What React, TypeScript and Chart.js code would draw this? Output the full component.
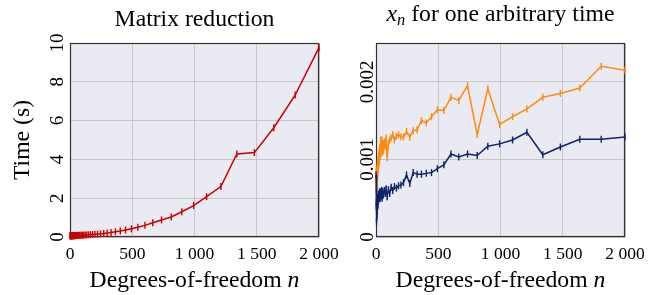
import React, { useEffect, useRef } from "react";
import { Chart, registerables } from "chart.js";
Chart.register(...registerables);

// ---------- data ----------
const nValues = [1, 2, 3, 4, 5, 6, 7, 8, 9, 10, 11, 12, 13, 15, 16, 18, 20, 22, 25, 27, 30, 33, 37, 40, 45, 49, 55, 60, 67, 74, 81, 90, 100, 110, 122, 134, 148, 164, 181, 200, 221, 245, 271, 299, 330, 365, 404, 446, 493, 545, 602, 665, 735, 813, 898, 993, 1097, 1212, 1340, 1481, 1637, 1809, 2000];

const timeValues = [
  0.07, 0.07, 0.07, 0.07, 0.07, 0.07, 0.07, 0.07, 0.07, 0.07, 0.07, 0.07, 0.07,
  0.07, 0.07, 0.07, 0.07, 0.07, 0.07, 0.07, 0.07, 0.07, 0.07, 0.07, 0.075, 0.075, 0.08, 0.08, 0.08, 0.085, 0.085, 0.09, 0.09,
  0.095, 0.1, 0.105, 0.11, 0.12, 0.13, 0.14, 0.15, 0.16, 0.18,
  0.2, 0.23, 0.27, 0.31, 0.36, 0.42, 0.5, 0.6, 0.73, 0.88,
  1.03, 1.3, 1.62, 2.08, 2.6, 4.28, 4.35, 5.63, 7.32, 9.76,
];

const xnOrange = [
  0.00085, 0.0006, 0.0007, 0.00052, 0.00075, 0.0006, 0.00082, 0.00068, 0.00088, 0.00075, 0.0009, 0.00078, 0.00095,
  0.00085, 0.001, 0.0009, 0.00104, 0.00095, 0.0011, 0.00097, 0.00115, 0.00104, 0.00125, 0.00108, 0.00118, 0.00125, 0.0011, 0.00112, 0.00122, 0.00117, 0.00128, 0.00102, 0.00121,
  0.00125, 0.00128, 0.00132, 0.00125, 0.0013, 0.00132, 0.00129, 0.00129, 0.00136, 0.00129,
  0.00137, 0.00138, 0.0015, 0.00147, 0.00155, 0.00164, 0.00163, 0.0018, 0.00176, 0.00195,
  0.00132, 0.00191, 0.00145, 0.00155, 0.00165, 0.0018, 0.00185, 0.00192, 0.0022, 0.00215,
];

const xnBlue = [
  0.0008, 0.0004, 0.00045, 0.0002, 0.00035, 0.00028, 0.00042, 0.0003, 0.00045, 0.00035, 0.00048, 0.0004, 0.0005,
  0.00042, 0.00052, 0.00046, 0.00055, 0.00048, 0.00055, 0.0005, 0.00058, 0.0005, 0.00058, 0.00052, 0.0006, 0.0005, 0.00058, 0.00055, 0.0006, 0.00056, 0.00062, 0.00052, 0.00061,
  0.00056, 0.00064, 0.0006, 0.00065, 0.00063, 0.00066, 0.00067, 0.0007, 0.0008, 0.00069,
  0.00083, 0.00081, 0.00081, 0.00082, 0.00083, 0.00088, 0.00093, 0.00107, 0.00103, 0.00107,
  0.00105, 0.00117, 0.0012, 0.00125, 0.00135, 0.00106, 0.00116, 0.00126, 0.00126, 0.00129,
];

const xTickValues = [0, 500, 1000, 1500, 2000];
const xTickLabels = ["0", "500", "1 000", "1 500", "2 000"];
const leftYTickValues = [0, 2, 4, 6, 8, 10];
const leftYTickLabels = ["0", "2", "4", "6", "8", "10"];
const rightYTickValues = [0, 0.001, 0.002];
const rightYTickLabels = ["0", "0.001", "0.002"];

const leftTitle = "Matrix reduction";
const rightTitleParts = ["x", "n", " for one arbitrary time"];
const xLabelParts = ["Degrees-of-freedom ", "n"];
const leftYLabel = "Time (s)";

// ---------- style ----------
const SERIF = '"Liberation Serif", "Times New Roman", serif';
const BG = "#eaeaf2";
const GRID = "#c6c6c6";
const FRAME = "#333333";
const RED = "#c80000";
const ORANGE = "#ff8a10";
const NAVY = "#0f2468";
const W = 657;
const H = 295;
const LABEL_SIZE = 23.7;
const XTICK_SIZE = 17.5;
const YTICK_SIZE = 19;

type Seg = { text: string; font: string; dy?: number };

function drawSegments(ctx: CanvasRenderingContext2D, segs: Seg[], cx: number, baseline: number) {
  let total = 0;
  const widths = segs.map((s) => {
    ctx.font = s.font;
    const w = ctx.measureText(s.text).width;
    total += w;
    return w;
  });
  let x = cx - total / 2;
  ctx.textAlign = "left";
  ctx.textBaseline = "alphabetic";
  segs.forEach((s, i) => {
    ctx.font = s.font;
    ctx.fillText(s.text, x, baseline + (s.dy || 0));
    x += widths[i];
  });
}

function makePlugin(cfg: {
  title: Seg[];
  titleBaseline: number;
  yLabel?: string;
  yLabelX?: number;
  yTickValues: number[];
  yTickLabels: string[];
  yTickX: number;
}) {
  return {
    id: "decor",
    beforeDraw(chart: any) {
      const { ctx, chartArea: a } = chart;
      ctx.save();
      ctx.fillStyle = BG;
      ctx.fillRect(a.left, a.top, a.right - a.left, a.bottom - a.top);
      ctx.restore();
    },
    beforeDatasetsDraw(chart: any) {
      const { ctx, chartArea: a } = chart;
      ctx.save();
      ctx.strokeStyle = FRAME;
      ctx.lineWidth = 1.2;
      ctx.strokeRect(a.left + 0.5, a.top + 0.5, a.right - a.left - 1, a.bottom - a.top - 1);
      ctx.restore();
    },
    afterDraw(chart: any) {
      const { ctx, chartArea: a } = chart;
      const cx = (a.left + a.right) / 2;
      ctx.save();
      ctx.fillStyle = "#000";
      drawSegments(ctx, cfg.title, cx, cfg.titleBaseline);
      drawSegments(
        ctx,
        [
          { text: xLabelParts[0], font: `${LABEL_SIZE}px ${SERIF}` },
          { text: xLabelParts[1], font: `italic ${LABEL_SIZE}px ${SERIF}` },
        ],
        cx,
        286.7
      );
      const yScale = chart.scales.y;
      ctx.font = `${YTICK_SIZE}px ${SERIF}`;
      ctx.textAlign = "center";
      ctx.textBaseline = "alphabetic";
      cfg.yTickValues.forEach((v, i) => {
        const py = yScale.getPixelForValue(v);
        ctx.save();
        ctx.translate(cfg.yTickX, py);
        ctx.rotate(-Math.PI / 2);
        ctx.fillText(cfg.yTickLabels[i], 0, 0);
        ctx.restore();
      });
      if (cfg.yLabel) {
        ctx.font = `${LABEL_SIZE}px ${SERIF}`;
        ctx.save();
        ctx.translate(cfg.yLabelX || 0, (a.top + a.bottom) / 2);
        ctx.rotate(-Math.PI / 2);
        ctx.fillText(cfg.yLabel, 0, 0);
        ctx.restore();
      }
      ctx.restore();
    },
  };
}

function xScale() {
  return {
    type: "linear" as const,
    min: 0,
    max: 2000,
    afterBuildTicks: (scale: any) => {
      scale.ticks = xTickValues.map((v) => ({ value: v }));
    },
    ticks: {
      autoSkip: false,
      maxRotation: 0,
      minRotation: 0,
      color: "#000",
      padding: 7,
      font: { family: SERIF, size: XTICK_SIZE },
      callback: (v: any) => {
        const i = xTickValues.indexOf(Number(v));
        return i >= 0 ? xTickLabels[i] : "";
      },
    },
    grid: { color: GRID, lineWidth: 1, drawTicks: false },
    border: { display: false },
    afterFit: (scale: any) => {
      scale.height = 58;
    },
  };
}

function yScale(max: number, ticks: number[], width: number) {
  return {
    type: "linear" as const,
    min: 0,
    max,
    afterBuildTicks: (scale: any) => {
      scale.ticks = ticks.map((v) => ({ value: v }));
    },
    ticks: { display: false },
    grid: { color: GRID, lineWidth: 1, drawTicks: false },
    border: { display: false },
    afterFit: (scale: any) => {
      scale.width = width;
    },
  };
}

function lineDataset(values: number[], color: string) {
  return {
    data: nValues.map((n, i) => ({ x: n, y: values[i] })),
    borderColor: color,
    backgroundColor: color,
    borderWidth: 1.5,
    pointStyle: "line" as const,
    pointRotation: 90,
    pointRadius: 3.5,
    pointBorderWidth: 1.4,
    pointBorderColor: color,
    tension: 0,
    clip: false as const,
  };
}

export default function App() {
  const leftRef = useRef<HTMLCanvasElement | null>(null);
  const rightRef = useRef<HTMLCanvasElement | null>(null);

  useEffect(() => {
    const common = {
      responsive: false,
      animation: false as const,
      devicePixelRatio: 1,
      plugins: { legend: { display: false }, tooltip: { enabled: false }, title: { display: false } },
    };

    const left = new Chart(leftRef.current as HTMLCanvasElement, {
      type: "line",
      data: { datasets: [lineDataset(timeValues, RED)] },
      options: {
        ...common,
        layout: { padding: { left: 0, right: W - 319, top: 43, bottom: 0 } },
        scales: { x: xScale(), y: yScale(10, leftYTickValues, 70) },
      },
      plugins: [
        makePlugin({
          title: [{ text: leftTitle, font: `${LABEL_SIZE}px ${SERIF}` }],
          titleBaseline: 26,
          yLabel: leftYLabel,
          yLabelX: 29,
          yTickValues: leftYTickValues,
          yTickLabels: leftYTickLabels,
          yTickX: 63,
        }),
      ],
    } as any);

    const right = new Chart(rightRef.current as HTMLCanvasElement, {
      type: "line",
      data: { datasets: [lineDataset(xnBlue, NAVY), lineDataset(xnOrange, ORANGE)] },
      options: {
        ...common,
        layout: { padding: { left: 328, right: W - 625, top: 43, bottom: 0 } },
        scales: { x: xScale(), y: yScale(0.0025, rightYTickValues, 48) },
      },
      plugins: [
        makePlugin({
          title: [
            { text: rightTitleParts[0], font: `italic ${LABEL_SIZE}px ${SERIF}` },
            { text: rightTitleParts[1], font: `italic 16.5px ${SERIF}`, dy: 4 },
            { text: rightTitleParts[2], font: `${LABEL_SIZE}px ${SERIF}` },
          ],
          titleBaseline: 21,
          yTickValues: rightYTickValues,
          yTickLabels: rightYTickLabels,
          yTickX: 373,
        }),
      ],
    } as any);

    return () => {
      left.destroy();
      right.destroy();
    };
  }, []);

  const canvasStyle: React.CSSProperties = { position: "absolute", left: 0, top: 0, width: W, height: H };
  return (
    <div style={{ position: "fixed", left: 0, top: 0, width: W, height: H, background: "#fff" }}>
      <canvas ref={leftRef} width={W} height={H} style={canvasStyle} />
      <canvas ref={rightRef} width={W} height={H} style={canvasStyle} />
    </div>
  );
}
